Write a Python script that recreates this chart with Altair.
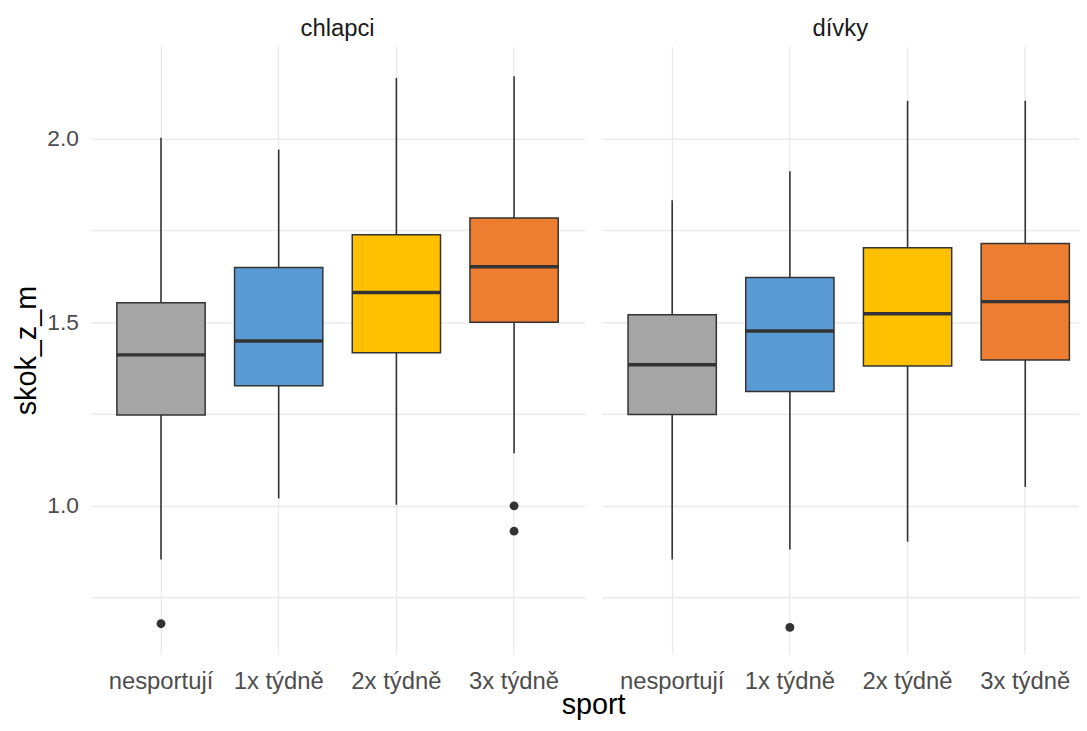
import altair as alt
import pandas as pd

categories = ["nesportují", "1x týdně", "2x týdně", "3x týdně"]
colors = ["#A5A5A5", "#5B9BD5", "#FFC000", "#ED7D31"]
grid_values = [0.75, 1.0, 1.25, 1.5, 1.75, 2.0]

# chlapci
chl_lower = [0.854, 1.020, 1.003, 1.143]
chl_q1 = [1.247, 1.327, 1.417, 1.500]
chl_median = [1.411, 1.449, 1.581, 1.651]
chl_q3 = [1.553, 1.649, 1.738, 1.784]
chl_upper = [2.002, 1.970, 2.165, 2.170]
chl_out_cat = ["nesportují", "3x týdně", "3x týdně"]
chl_out_val = [0.679, 1.000, 0.931]

# dívky
div_lower = [0.854, 0.881, 0.902, 1.051]
div_q1 = [1.249, 1.311, 1.381, 1.397]
div_median = [1.384, 1.476, 1.523, 1.556]
div_q3 = [1.520, 1.622, 1.703, 1.714]
div_upper = [1.832, 1.911, 2.103, 2.103]
div_out_cat = ["1x týdně"]
div_out_val = [0.669]

FONT = "Liberation Sans"
DARK = "#333333"
GRID = "#EBEBEB"
Y_DOMAIN = [0.597, 2.251]
LEFT_W = 498
RIGHT_W = 481
SPACING = 17
H = 612
step = LEFT_W / 4.2
bandwidth = step * 0.75
# right panel: same step, cut at the right edge like the reference
right_outer = (RIGHT_W / step - 3.75) / 2
right_align = (0.6 * step - bandwidth / 2) / (2 * right_outer * step)

label_expr = ("abs(datum.value*2 - round(datum.value*2)) < 0.01 ? "
              "format(datum.value, '.1f') : ''")


def panel(lower, q1, med, q3, upper, out_cat, out_val, title, first):
    box = pd.DataFrame({"sport": categories, "lower": lower, "q1": q1,
                        "median": med, "q3": q3, "upper": upper})
    out = pd.DataFrame({"sport": out_cat, "value": out_val})

    common_x = dict(labelAngle=0, grid=True, ticks=False, domain=False,
                    labelPadding=16, labelFontSize=24, labelColor="#4D4D4D",
                    gridColor=GRID, gridWidth=1.5)
    if first:
        xscale = alt.Scale(domain=categories, paddingInner=0.25, paddingOuter=0.225)
        xaxis = alt.Axis(title=None, **common_x)
        yaxis = alt.Axis(values=grid_values, labelExpr=label_expr, title="skok_z_m",
                         grid=True, ticks=False, domain=False, labelPadding=12,
                         titlePadding=5, labelFontSize=23, titleFontSize=29,
                         labelColor="#4D4D4D", titleColor="#000000",
                         gridColor=GRID, gridWidth=1.5)
        width = LEFT_W
    else:
        xscale = alt.Scale(domain=categories, paddingInner=0.25,
                           paddingOuter=right_outer, align=right_align)
        xaxis = alt.Axis(title="sport", titleFontSize=29, titleColor="#000000",
                         titlePadding=-3, titleX=-(SPACING / 2), titleAlign="center",
                         **common_x)
        yaxis = alt.Axis(values=grid_values, labels=False, title=None, grid=True,
                         ticks=False, domain=False, labelPadding=0,
                         minExtent=0, maxExtent=0,
                         gridColor=GRID, gridWidth=1.5)
        width = RIGHT_W

    yscale = alt.Scale(domain=Y_DOMAIN, nice=False, zero=False)
    x = alt.X("sport:N", sort=categories, scale=xscale, axis=xaxis)

    whisker = alt.Chart(box).mark_rule(color=DARK, strokeWidth=1.6).encode(
        x=x, y=alt.Y("lower:Q", scale=yscale, axis=yaxis), y2="upper:Q")
    rect = alt.Chart(box).mark_bar(stroke=DARK, strokeWidth=1.5, opacity=1).encode(
        x=x, y=alt.Y("q1:Q", scale=yscale), y2="q3:Q",
        color=alt.Color("sport:N", scale=alt.Scale(domain=categories, range=colors),
                        legend=None))
    median = alt.Chart(box).mark_tick(color=DARK, thickness=3.5, size=bandwidth,
                                      opacity=1).encode(
        x=x, y=alt.Y("median:Q", scale=yscale))
    points = alt.Chart(out).mark_circle(size=80, color=DARK, opacity=1).encode(
        x=x, y=alt.Y("value:Q", scale=yscale))

    return alt.layer(whisker, rect, median, points).properties(
        width=width, height=H,
        title=alt.TitleParams(title, fontSize=24, color="#1A1A1A", anchor="middle",
                              offset=5, font=FONT, fontWeight="normal"))


left = panel(chl_lower, chl_q1, chl_median, chl_q3, chl_upper,
             chl_out_cat, chl_out_val, "chlapci", True)
right = panel(div_lower, div_q1, div_median, div_q3, div_upper,
              div_out_cat, div_out_val, "dívky", False)

chart = alt.hconcat(left, right, spacing=SPACING, bounds="flush").resolve_scale(
    x="independent", y="independent", color="independent"
).configure(
    font=FONT, padding={"left": 5, "top": 7, "right": 0, "bottom": 0}
).configure_view(stroke=None).configure_axis(
    labelFont=FONT, titleFont=FONT, titleFontWeight="normal"
)

chart.save("out.html", embed_options={"renderer": "svg", "actions": False})
